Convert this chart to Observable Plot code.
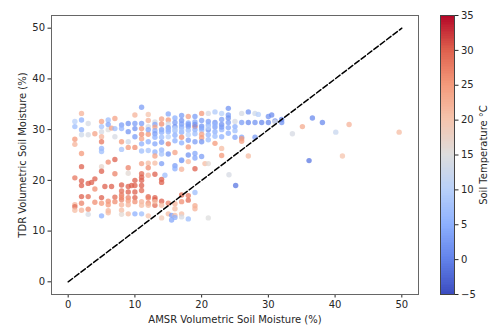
<!DOCTYPE html>
<html><head><meta charset="utf-8">
<script src="https://cdn.jsdelivr.net/npm/d3@7"></script>
<script src="https://cdn.jsdelivr.net/npm/@observablehq/plot@0.6"></script>
<style>
html,body{margin:0;padding:0;background:#fff;}
#chart{position:relative;width:491px;height:327px;}
#chart svg{position:absolute;left:0;top:0;}
</style></head><body><div id="chart"></div>
<script>
// [AMSR %, TDR %, soil temperature °C]
const upperCluster = [
[1,31.6,10],[1,30.6,7],[1,28.1,25],[1,27.1,22],
[2,33.2,22],[2,31.9,5],[2,30.0,5],[2,29.0,13],[2,25.3,25],
[3,31.2,14],[3,29.0,14],
[4,29.2,24],
[5,31.6,24],[5,30.6,8],[5,29.6,14],[5,28.6,22],[5,27.6,28],[5,26.3,6],[5,25.7,7],
[6,31.9,7],[6,31.0,4],[6,30.0,15],[6.5,30.3,24],
[7,32.2,24],[7,30.2,7],[7,28.6,14],
[8,30.9,3],[8,30.2,6],[8,27.6,25],[8,26.1,8],
[9,31.2,2],[9,29.6,2],[9,27.6,13],[9,26.5,25],
[10,32.9,22],[10,31.2,3],[10,30.2,2],[10,28.6,3],[10,26.5,26],
[11,34.4,3],[11,31.2,3],[11,30.2,25],[11,29.1,26],[11,28.2,24],[11,27.2,5],[11,25.8,7],
[12,33.0,20],[12,31.8,22],[12,30.6,14],[12,29.1,25],[12,27.6,5],[12,25.9,8],[12,30.0,4],
[13,31.5,14],[13,31.0,4],[13,30.5,24],[13,29.8,5],[13,29.2,3],[13,28.5,5],[13,27.2,4],[13,25.6,5],[13,24.8,24],
[14,32.1,24],[14,31.1,26],[14,30.0,3],[14,29.5,5],[14,28.5,7],[14,27.5,3],[14,26.0,6],[14,25.2,8],
[15,33.1,4],[15,31.9,25],[15,31.1,13],[15,30.4,3],[15,29.6,5],[15,28.6,10],[15,27.2,27],[15,25.2,2],[15,30.0,6],
[16,32.3,5],[16,31.4,3],[16,30.6,2],[16,29.8,7],[16,28.9,5],[16,27.8,5],[16,25.5,24],[16,30.2,10],
[17,32.8,3],[17,31.8,2],[17,31.1,3],[17,30.5,4],[17,29.5,5],[17,28.5,26],[17,27.4,5],[17,23.9,3],[17,30.0,8],
[18,32.6,24],[18,31.3,5],[18,30.6,2],[18,29.9,7],[18,29.0,10],[18,27.9,3],[18,26.6,25],[18,25.0,2],[18,31.0,3],
[19,32.6,3],[19,31.5,4],[19,30.6,29],[19,30.0,5],[19,29.2,7],[19,27.6,3],[19,25.3,4],[19,31.0,2],
[20,33.2,25],[20,31.8,3],[20,30.7,2],[20,29.9,7],[20,29.1,24],[20,28.4,25],[20,27.6,2],[20,30.3,4],
[21,33.2,14],[21,31.6,3],[21,30.9,5],[21,30.0,2],[21,29.0,6],[21,28.0,7],[21,30.4,10],
[22,33.5,9],[22,31.4,2],[22,30.5,3],[22,29.6,5],[22,28.7,7],[22,27.3,25],[22,31.0,6],
[23,33.2,10],[23,32.0,3],[23,31.0,2],[23,30.0,6],[23,28.6,5],[23,26.3,21],[23,30.5,3],
[24,34.2,2],[24,32.9,3],[24,32.3,2],[24,31.4,3],[24,30.4,4],[24,29.3,5],
[25,31.6,14],[25,30.6,5],[25,29.8,7],[25,28.5,4],
[26,33.2,14],[26,31.4,3],[26,28.5,4],[26,28.2,25],[26,27.7,24],
[27,33.5,2],[27,31.4,1],[27,24.8,21],
[28,33.2,13],[28.5,33.0,10],[28,31.4,2],[28,28.5,3],
[29,31.4,1],
[30,32.6,2],[30,31.4,1],[30.5,32.9,1],
[31,31.7,1],[31,31.5,14],
[32,31.4,2],[32,32.0,1]
];
const lowerCluster = [
[1,20.5,28],[1,15.2,22],[1,14.8,29],[1,14.1,21],
[2,22.7,30],[2,19.9,30],[2,19.0,30],[2,16.8,30],[2,15.5,27],[2,14.1,22],
[3,19.4,30],[3,16.8,29],[3,14.3,26],[3,13.3,14],
[4,20.3,30],[3.5,19.6,30],[4,18.3,26],[4,15.7,26],
[5,22.7,17],[5,21.8,30],[5.5,18.8,30],[5,16.6,30],[5,15.5,25],[5,13.0,5],
[6,23.6,26],[6.5,18.8,30],[6,15.9,26],[6,15.2,25],[6,14.0,22],[6,13.6,21],
[7,24.1,30],[7,21.3,27],[7,16.7,29],[7,15.8,26],
[8,19.1,30],[8,17.9,29],[8,17.1,28],[8,16.6,26],[8,16.2,27],[8,15.2,22],[8,14.1,21],[8,13.3,16],
[9,22.5,27],[9,21.4,16],[9,18.8,30],[9,17.7,30],[9,16.6,27],[9,16.0,25],[9,15.2,22],[9,13.4,21],[9.5,19.0,30],
[10,20.0,30],[10,19.0,30],[10,17.7,30],[10,16.6,30],[10,15.8,26],[10,13.4,5],
[11,23.3,24],[11,21.3,29],[11,20.6,30],[11,20.0,30],[11,19.0,30],[11,18.0,29],[11,15.8,22],[11,15.1,21],[11,13.4,7],
[12,23.4,21],[12,22.5,26],[12,21.0,22],[12,16.8,29],[12,16.5,27],[12,15.5,26],[12,15.1,21],[12,13.0,20],
[13,23.4,21],[13,21.2,30],[13,16.6,30],[13,16.2,30],[13,15.1,29],[13,15.8,21],
[14,23.3,3],[14.5,21.0,7],[14,20.2,30],[14,19.6,30],[14,15.9,30],[14,15.1,21],[14,12.6,19],
[15,15.5,27],[15,13.4,21],[15.5,13.1,3],[15.5,12.2,4],
[16,22.9,3],[16,22.3,5],[16,15.4,22],[16,14.4,21],[16,13.1,21],[16,12.7,5],
[17,24.0,4],[17,22.2,22],[17,17.1,29],[17,15.8,26],[17,13.4,21],[17,12.8,14],
[18,23.7,21],[18,16.1,29],[18,17.0,28],[18,12.4,7],
[19,24.4,4],[19,22.3,30],[19,17.6,7],[19,15.0,23],[19,14.4,22],
[20,24.7,3],[20.5,23.3,21],
[21,23.3,16],[21,12.6,15],
[23,24.9,25]
];
const outliers = [
[33.6,29.2,14],[35.1,30.6,23],[36.6,32.3,1],[38.1,31.4,1],[40.1,29.5,12],
[42.1,31.0,22],[49.6,29.5,21],[41.1,24.8,20],[36.1,23.9,-1],[25.1,19.0,-1],[24.1,21.1,14]
];
const axisTicks = [0, 10, 20, 30, 40, 50];
const tempTicks = [-5, 0, 5, 10, 15, 20, 25, 30, 35];
const oneToOne = [0, 50];
const coolwarmColors = ["#3b4cc0","#6282ea","#8db0fe","#b8d0f9","#dddddd","#f5c4ad","#f49a7b","#de604d","#b40426"];

const coolwarm = d3.piecewise(d3.interpolateRgb, coolwarmColors);
const colorScale = {type: "linear", domain: [-5, 35], interpolate: coolwarm};
const points = [...upperCluster, ...lowerCluster, ...outliers].map(([x, y, t]) => ({x, y, t}));
const font = {fontFamily: "'DejaVu Sans', sans-serif", fontSize: "10px", color: "#262626", background: "transparent", overflow: "visible"};

const main = Plot.plot({
  width: 491, height: 327,
  marginLeft: 51, marginRight: 73, marginTop: 15, marginBottom: 33,
  style: font,
  x: {domain: [-2.5, 52.5], ticks: axisTicks, tickSize: 3.5, tickPadding: 3, label: "AMSR Volumetric Soil Moisture (%)", labelAnchor: "center", labelOffset: 28, labelArrow: "none"},
  y: {domain: [-2.5, 52.5], ticks: axisTicks, tickSize: 3.5, tickPadding: 3, label: "TDR Volumetric Soil Moisture (%)", labelAnchor: "center", labelOffset: 33, labelArrow: "none"},
  color: colorScale,
  marks: [
    Plot.dot(points, {x: "x", y: "y", fill: "t", r: 2.7, fillOpacity: 0.75}),
    Plot.line(oneToOne, {x: d => d, y: d => d, stroke: "black", strokeWidth: 1.5, strokeDasharray: "5.5,2.5"}),
    Plot.frame({stroke: "#666"})
  ]
});

const step = 0.25;
const cbSteps = d3.range(-5, 35, step);
const bar = Plot.plot({
  width: 491, height: 327,
  marginLeft: 440, marginRight: 37, marginTop: 15, marginBottom: 33,
  style: font,
  x: {domain: [0, 1], axis: null},
  y: {domain: [-5, 35], ticks: tempTicks, axis: "right", tickSize: 3.5, tickPadding: 3, label: "Soil Temperature °C", labelAnchor: "center", labelOffset: 32, labelArrow: "none"},
  color: colorScale,
  marks: [
    Plot.rect(cbSteps, {x1: 0, x2: 1, y1: d => d, y2: d => Math.min(35, d + step * 1.5), fill: d => d + step / 2, shapeRendering: "crispEdges"}),
    Plot.frame({stroke: "#444"})
  ]
});

const el = document.getElementById("chart");
el.appendChild(main);
el.appendChild(bar);
</script></body></html>
